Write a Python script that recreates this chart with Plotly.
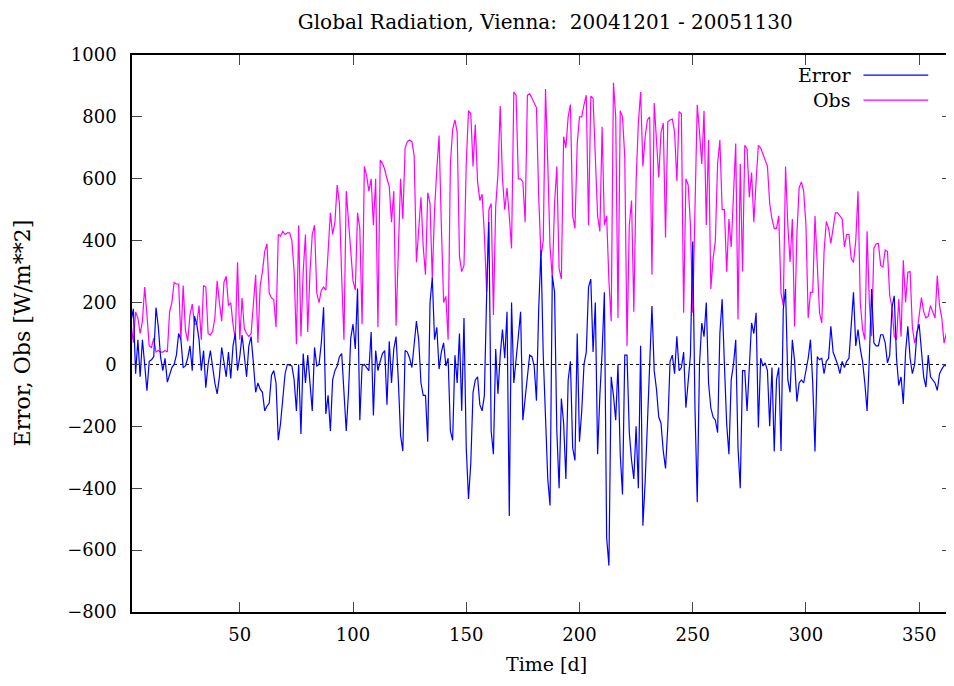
import plotly.graph_objects as go

days = list(range(1, 366))

obs = [80,130,70,170,150,100,140,250,160,60,55,85,40,45,40,40,45,40,170,200,
265,260,260,80,255,110,75,160,195,130,130,190,80,255,250,100,95,107,150,270,
200,140,265,285,190,200,130,80,330,80,215,115,100,90,100,205,290,70,255,300,
365,390,230,215,210,120,420,415,430,420,425,425,400,300,65,450,90,300,420,105,
300,420,450,230,200,240,250,240,350,490,420,460,580,520,280,80,560,460,380,270,
240,490,440,130,640,610,560,600,450,600,120,660,650,630,600,575,460,560,125,330,
600,470,700,720,725,720,675,330,440,540,380,290,555,520,276,500,630,740,450,200,
220,80,650,760,790,750,350,300,320,650,820,810,640,775,590,530,550,420,235,500,
520,160,510,615,835,600,500,570,480,375,880,870,600,600,590,460,870,875,860,845,
830,540,350,400,890,650,380,280,520,640,310,276,736,700,800,840,480,440,714,800,
800,840,870,450,867,860,670,480,430,768,450,480,270,140,910,800,150,820,800,670,
60,450,530,170,590,780,880,640,736,790,800,290,845,714,604,750,780,410,784,790,
793,750,593,817,810,167,600,580,451,167,550,839,750,648,820,451,725,244,342,400,
650,725,500,500,300,470,380,540,714,145,648,300,708,697,540,620,460,593,708,700,
680,660,640,520,470,440,440,480,230,190,640,450,331,470,123,420,571,590,560,451,
150,233,233,480,300,167,134,364,462,440,391,450,490,490,480,470,380,420,420,342,
330,400,560,200,113,80,430,200,91,375,390,391,320,315,370,365,222,184,91,80,
211,90,337,200,298,300,120,69,100,167,216,170,150,156,190,170,150,287,190,150,
69,100,173,50,80]

error = [100,140,180,-30,80,-40,80,0,-85,10,15,25,184,123,25,-20,20,-57,-30,-10,
0,30,100,80,-10,-5,20,60,-20,156,130,80,-20,45,-75,0,45,-10,-60,-95,
-40,55,5,-40,40,-45,60,100,-20,25,95,20,-40,60,90,5,-90,-60,-80,-90,
-150,-135,-125,-35,-20,-60,-245,-190,-100,-30,0,-2,-5,-50,-150,0,-225,35,-60,30,
-75,-150,55,-5,0,70,185,-160,-100,-215,-50,-20,-5,25,35,-75,-215,-90,85,130,
50,245,-180,-5,0,-10,-20,105,-165,45,-20,10,35,45,-130,75,-60,50,90,-50,
-230,-280,45,40,20,-10,80,140,80,-60,-100,-100,-250,200,280,80,120,-15,40,70,
-5,20,-215,-245,30,-60,100,-150,150,-270,-435,-320,-90,-50,-40,-130,-150,-100,222,460,
-215,-290,50,-95,30,113,20,170,-490,200,-60,30,91,170,-180,-110,-40,30,25,-5,
-117,180,370,30,-170,-370,-456,287,233,-215,-400,-110,-190,-370,-50,10,-270,-310,100,-250,
-150,0,40,250,276,40,200,-290,-100,40,233,-560,-650,-40,-100,-180,0,-290,-420,30,
30,-220,-310,-370,-200,-400,60,-521,-380,-190,10,189,-20,-80,-170,-190,-280,-336,-200,10,
30,-30,91,-20,-10,40,-140,-60,30,397,-140,-445,0,134,90,200,-60,-140,-170,-180,
-220,100,211,0,-193,-290,-50,0,80,-270,-400,-20,-20,-150,0,134,100,167,-204,20,
-5,5,-20,-200,-10,-281,-50,-10,-280,178,244,-50,-90,80,10,-120,-60,-50,-60,-25,
20,80,-60,-281,25,15,20,-30,10,20,123,40,20,0,-30,10,-10,10,20,123,
233,60,113,50,10,-60,-150,20,244,70,60,60,96,96,70,5,30,184,222,20,
-68,-40,-128,40,123,20,-30,0,102,130,40,-40,-73,30,-40,-50,-60,-84,-30,-15,
-3,-5,0,2,5]

x_ticks = [50, 100, 150, 200, 250, 300, 350]
y_ticks = [-800, -600, -400, -200, 0, 200, 400, 600, 800, 1000]

FONT = "DejaVu Serif"

fig = go.Figure()
fig.add_trace(go.Scatter(x=days, y=obs, mode="lines", name="Obs",
                         line=dict(color="#ff00ff", width=1.2), showlegend=False))
fig.add_trace(go.Scatter(x=days, y=error, mode="lines", name="Error",
                         line=dict(color="#0000ff", width=1.2), showlegend=False))

# zero axis (dotted)
fig.add_shape(type="line", xref="paper", yref="y", x0=0, x1=1, y0=0, y1=0,
              line=dict(color="black", width=1, dash="3px,3px"), layer="below")

# gnuplot-style legend: text then line sample
leg = [("Error", "#0000ff", 0.964), ("Obs", "#ff00ff", 0.919)]
for name, col, yp in leg:
    fig.add_annotation(xref="paper", yref="paper", x=0.879, y=yp, text=name,
                       showarrow=False, xanchor="right", yanchor="middle",
                       font=dict(family=FONT, size=19, color="black"))
    fig.add_shape(type="line", xref="paper", yref="paper", x0=0.892, x1=0.971,
                  y0=yp, y1=yp, line=dict(color=col, width=1.2))

# axis titles
fig.add_annotation(xref="paper", yref="paper", x=0.505, y=-0.094,
                   text="Time [d]", showarrow=False, xanchor="center", yanchor="middle",
                   font=dict(family=FONT, size=19, color="black"))
fig.add_annotation(xref="paper", yref="paper", x=-0.134, y=0.5,
                   text="Error, Obs [W/m**2]", showarrow=False, textangle=-90,
                   xanchor="center", yanchor="middle",
                   font=dict(family=FONT, size=22, color="black"))

fig.update_layout(
    width=946, height=670,
    margin=dict(l=124, r=0, t=47, b=66),
    paper_bgcolor="white", plot_bgcolor="white",
    font=dict(family=FONT, size=17, color="black"),
    title=dict(text="Global Radiation, Vienna:  20041201 - 20051130",
               xref="paper", x=0.504, xanchor="center",
               yref="container", y=0.979, yanchor="middle",
               font=dict(family=FONT, size=20)),
    xaxis=dict(range=[2.4, 364.5], tickvals=x_ticks, ticks="inside", ticklen=10,
               tickwidth=1, showline=True, linecolor="black", linewidth=1.5,
               mirror="allticks", showgrid=False, zeroline=False,
               ticklabelstandoff=6,
               tickfont=dict(family=FONT, size=18)),
    yaxis=dict(range=[-800, 1000], tickvals=y_ticks, ticks="inside", ticklen=10,
               tickwidth=1, showline=True, linecolor="black", linewidth=1.5,
               mirror="allticks", showgrid=False, zeroline=False,
               ticklabelstandoff=10,
               tickfont=dict(family=FONT, size=18)),
)

fig.write_html("out.html")
